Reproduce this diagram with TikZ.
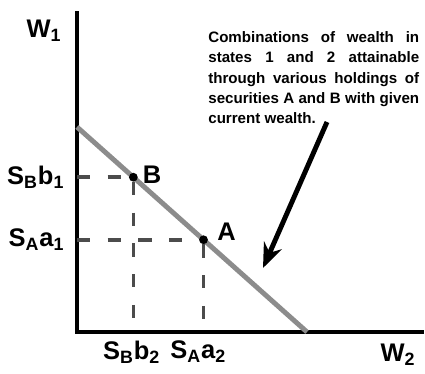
\documentclass[tikz,border=0pt]{standalone}
\usepackage{fontspec}
\setmainfont{Liberation Sans}
\usetikzlibrary{arrows.meta,positioning,calc}
\tikzset{
  axisline/.style={line width=2.2pt,line cap=rect},
  budgetline/.style={line width=2.8pt,draw=black!45},
  guideline/.style={line width=2pt,draw=black!70,dash pattern=on 7.5pt off 10pt},
  holdingdot/.style={circle,fill=black,inner sep=0pt,minimum size=5pt},
  axislabel/.style={font=\fontsize{14.5}{16}\selectfont\bfseries,inner sep=0pt},
  notetext/.style={font=\fontsize{8.6}{11.6}\selectfont\bfseries,align=justify,
    text width=120pt,inner sep=0pt},
  notearrow/.style={-{Stealth[length=14pt,width=11pt]},line width=2.8pt}
}
\begin{document}
\begin{tikzpicture}[x=0.02cm,y=-0.02cm]
  \useasboundingbox (0,0) rectangle (425,374);
  % axes
  \coordinate (o) at (77,332);
  \coordinate (ytop) at (77,13);
  \coordinate (xend) at (422,332);
  \draw[axisline] (ytop) -- (o) -- (xend);
  % attainable combinations
  \coordinate (w1int) at (77,127);
  \coordinate (w2int) at (307,332);
  \draw[budgetline] (w1int) -- (w2int);
  \node[holdingdot] (b) at ($(w1int)!0.245!(w2int)$) {};
  \node[holdingdot] (a) at ($(w1int)!0.55!(w2int)$) {};
  \coordinate (b1) at (o |- b);
  \coordinate (a1) at (o |- a);
  \coordinate (b2) at (o -| b);
  \coordinate (a2) at (o -| a);
  \draw[guideline] (b1) -- (b);
  \draw[guideline] (a1) -- (a);
  \draw[guideline] (b) -- (b2);
  \draw[guideline] (a) -- (a2);
  \node[axislabel,right=2.5pt of b,yshift=1.5pt] {B};
  \node[axislabel,right=5pt of a,yshift=4.5pt] {A};
  % axis labels
  \node[axislabel] (w1) at (44,31) {W\textsubscript{1}};
  \node[axislabel] (w2) at (398,355) {W\textsubscript{2}};
  \node[axislabel,left=7pt of b1] (sbb1) {S\textsubscript{B}b\textsubscript{1}};
  \node[axislabel,left=7pt of a1] (saa1) {S\textsubscript{A}a\textsubscript{1}};
  \node[axislabel,below=5pt of b2,xshift=-1pt] (sbb2) {S\textsubscript{B}b\textsubscript{2}};
  \node[axislabel,below=5pt of a2,xshift=-3pt] (saa2) {S\textsubscript{A}a\textsubscript{2}};
  % note
  \node[notetext,anchor=north west] (note) at (208,31)
    {Combinations of wealth in states 1 and 2 attainable through various holdings of securities A and B with given current wealth.};
  \coordinate (tail) at (327,122);
  \coordinate (tip) at (263,268);
  \draw[notearrow] (tail) -- (tip);
\end{tikzpicture}
\end{document}
